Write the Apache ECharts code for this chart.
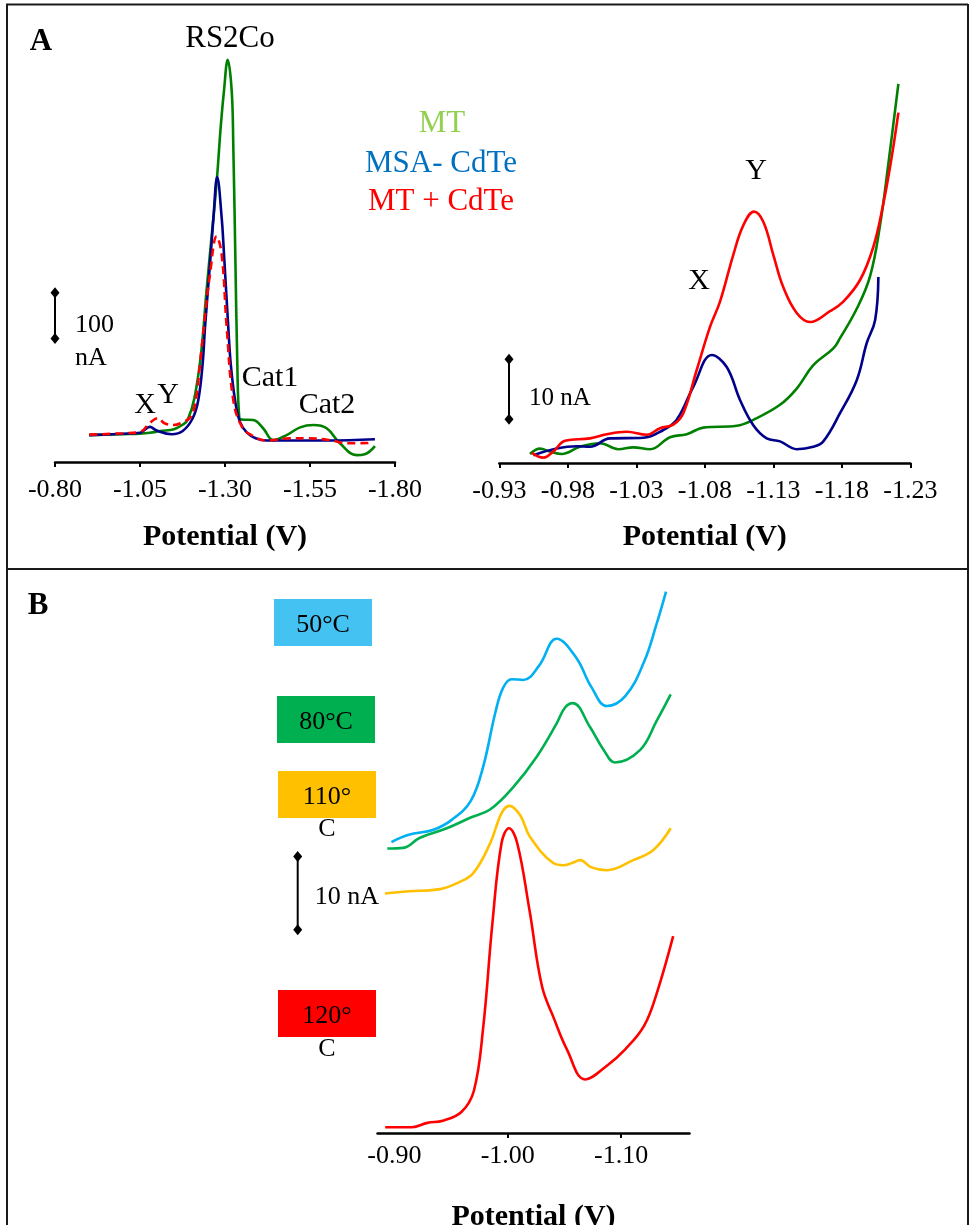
<!DOCTYPE html>
<html><head><meta charset="utf-8">
<script src="https://cdn.jsdelivr.net/npm/echarts@6/dist/echarts.min.js"></script>
<style>html,body{margin:0;padding:0;background:#fff}#c{width:971px;height:1225px}</style>
</head><body><div id="c"></div>
<script>
// ---------- tick labels ----------
const ticksALeft = [-0.80, -1.05, -1.30, -1.55, -1.80];
const ticksARight = [-0.93, -0.98, -1.03, -1.08, -1.13, -1.18, -1.23];
const ticksB = [-0.90, -1.00, -1.10];
const tickMarksB = [-1.00, -1.10];

// ---------- Panel A (left): potential (V), current (nA, offset) ----------
const aLeftMT = [[-0.901,59],[-1.000,61],[-1.050,62],[-1.079,64],[-1.110,68],[-1.150,72],[-1.178,83],[-1.190,92],[-1.210,140],[-1.230,240],[-1.245,370],[-1.260,490],[-1.2755,614],[-1.2873,734],[-1.297,814],[-1.3079,882],[-1.3197,814],[-1.3244,694],[-1.3303,455],[-1.3362,216],[-1.3421,96],[-1.350,93],[-1.383,92],[-1.412,74],[-1.442,48],[-1.481,59],[-1.521,76],[-1.560,81],[-1.599,74],[-1.638,41],[-1.687,15],[-1.711,17],[-1.741,35]];
const aLeftMSA = [[-0.901,59],[-1.000,62],[-1.050,64],[-1.079,77],[-1.099,69],[-1.143,61],[-1.1756,68],[-1.205,96],[-1.2215,136],[-1.2343,216],[-1.2412,295],[-1.258,455],[-1.266,535],[-1.277,625],[-1.2903,535],[-1.2971,455],[-1.3097,295],[-1.3168,216],[-1.3294,136],[-1.3441,88],[-1.3638,65],[-1.390,52],[-1.423,47],[-1.500,47],[-1.600,47],[-1.741,50]];
const aLeftMTCdTe = [[-0.901,60],[-1.000,63],[-1.050,66],[-1.079,86],[-1.103,96],[-1.122,85],[-1.148,81],[-1.178,88],[-1.200,100],[-1.215,140],[-1.2265,216],[-1.2412,320],[-1.255,407],[-1.2755,495],[-1.2903,455],[-1.305,296],[-1.3244,136],[-1.350,77],[-1.380,58],[-1.423,47],[-1.491,52],[-1.540,52],[-1.609,48],[-1.658,41],[-1.736,42]];
const aLeftScaleBar = [[-0.80,271],[-0.80,371]]; // 100 nA

// ---------- Panel A (right) ----------
const aRightMT = [[-0.9524,1.5],[-0.9597,2.4],[-0.9670,1.9],[-0.9756,1.5],[-0.9889,2.7],[-1.0035,3.3],[-1.0169,2.3],[-1.0278,2.6],[-1.0400,2.3],[-1.0546,4.3],[-1.0668,4.8],[-1.0789,5.9],[-1.1033,6.2],[-1.1154,7.2],[-1.1349,9.7],[-1.1471,12.4],[-1.1592,16.3],[-1.1738,19.1],[-1.1787,20.8],[-1.1909,25.7],[-1.2006,31.1],[-1.2079,39.6],[-1.2140,49.9],[-1.2213,63.2]];
const aRightMSA = [[-0.9548,1.3],[-0.9719,2.4],[-0.9865,2.8],[-0.9962,2.7],[-1.0108,4.1],[-1.0351,4.2],[-1.0497,5.5],[-1.0595,7.2],[-1.0716,12.7],[-1.0851,18.0],[-1.0960,16.0],[-1.1057,10.5],[-1.1154,6.3],[-1.1252,4.1],[-1.1349,3.6],[-1.1471,2.3],[-1.1592,2.7],[-1.1665,3.6],[-1.1787,8.3],[-1.1909,13.8],[-1.1982,20.0],[-1.2043,23.8],[-1.2067,31.0]];
const aRightMTCdTe = [[-0.9537,1.7],[-0.9621,0.9],[-0.9694,1.9],[-0.9780,3.7],[-0.9962,4.1],[-1.0084,4.8],[-1.0230,5.2],[-1.0376,4.7],[-1.0473,5.8],[-1.0570,6.4],[-1.0643,8.3],[-1.0741,15.5],[-1.0838,22.7],[-1.0911,26.9],[-1.1008,34.7],[-1.1081,39.6],[-1.1159,41.9],[-1.1227,40.2],[-1.1300,34.7],[-1.1373,29.3],[-1.1471,25.0],[-1.1568,23.5],[-1.1714,25.3],[-1.1811,26.9],[-1.1933,30.5],[-1.2030,36.0],[-1.2103,43.2],[-1.2165,51.1],[-1.2213,58.4]];
const aRightScaleBar = [[-0.9371,7.3],[-0.9371,17.3]]; // 10 nA

// ---------- Panel B ----------
const b50 = [[-0.8974,40.2],[-0.9126,41.2],[-0.9345,41.9],[-0.9509,43.3],[-0.9674,45.9],[-0.9783,50.6],[-0.9891,58.1],[-0.9959,61.5],[-1.0035,62.7],[-1.0138,62.6],[-1.0274,64.5],[-1.0432,68.3],[-1.0603,65.7],[-1.0739,61.6],[-1.0874,59.0],[-1.1039,60.4],[-1.1203,65.1],[-1.1313,70.3],[-1.1397,74.8]];
const b80 = [[-0.8938,39.3],[-0.9079,39.4],[-0.9226,40.8],[-0.9462,42.1],[-0.9674,43.6],[-0.9844,44.7],[-1.0049,47.8],[-1.0256,52.0],[-1.0432,56.6],[-1.0506,58.8],[-1.0574,59.4],[-1.0726,56.1],[-1.0848,52.9],[-1.0947,51.2],[-1.1167,52.9],[-1.1313,56.9],[-1.1438,60.6]];
const b110 = [[-0.8917,33.1],[-0.9126,33.4],[-0.9403,33.7],[-0.9564,34.6],[-0.9696,35.9],[-0.9844,40.0],[-0.9946,44.2],[-1.0014,45.2],[-1.0110,43.9],[-1.0197,40.9],[-1.0402,37.3],[-1.0491,37.0],[-1.0567,37.3],[-1.0638,37.7],[-1.0739,36.7],[-1.0874,36.3],[-1.1108,37.7],[-1.1285,39.1],[-1.1438,42.1]];
const b120 = [[-0.8919,0.8],[-0.9154,0.8],[-0.9291,1.4],[-0.9427,1.7],[-0.9591,2.9],[-0.9701,5.8],[-0.9783,14.5],[-0.9865,29.0],[-0.9946,40.1],[-1.0011,42.1],[-1.0083,40.1],[-1.0192,30.8],[-1.0302,20.3],[-1.0411,15.7],[-1.0521,11.6],[-1.0684,7.4],[-1.0875,9.3],[-1.1039,11.6],[-1.1203,14.8],[-1.1313,19.2],[-1.1460,27.2]];
const bScaleBar = [[0.5,28.1],[0.5,38.2]]; // 10 nA (drawn in its own small grid left of panel B)

const SERIF = 'Liberation Serif';

function xAxisCfg(gi, min, max, labels, ticks, nameGap, margin) {
  return {
    gridIndex: gi, type: 'value', min: min, max: max, inverse: true,
    axisLine: { show: true, onZero: false, lineStyle: { color: '#000', width: 2.5 } },
    axisTick: { show: true, customValues: ticks, length: 5, inside: false, lineStyle: { color: '#000', width: 2 } },
    axisLabel: { customValues: labels, formatter: v => Number(v).toFixed(2), fontFamily: SERIF, fontSize: 26, color: '#000', margin: margin },
    splitLine: { show: false },
    name: 'Potential (V)', nameLocation: 'middle', nameGap: nameGap,
    nameTextStyle: { fontFamily: SERIF, fontWeight: 'bold', fontSize: 30, color: '#000' }
  };
}
function yAxisCfg(gi, max) {
  return { gridIndex: gi, type: 'value', min: 0, max: max, show: false, splitLine: { show: false } };
}
function curve(name, data, gi, color, width, dashed) {
  return {
    name: name, type: 'line', xAxisIndex: gi, yAxisIndex: gi, data: data,
    showSymbol: false, smooth: 0.4, clip: false,
    lineStyle: { color: color, width: width, type: dashed ? [8, 5] : 'solid' },
    itemStyle: { color: color }, z: 3
  };
}
function bar(data, gi) {
  return {
    type: 'line', xAxisIndex: gi, yAxisIndex: gi, data: data, clip: false,
    symbol: 'diamond', symbolSize: [9, 11], showSymbol: true,
    lineStyle: { color: '#000', width: 2 }, itemStyle: { color: '#000' }, z: 4
  };
}
function txt(x, y, text, size, opts) {
  opts = opts || {};
  return {
    type: 'text', x: x, y: y, z: 10,
    style: {
      text: text, fontFamily: SERIF, fontSize: size, fontWeight: opts.bold ? 'bold' : 'normal',
      fill: opts.color || '#000', align: opts.align || 'center', verticalAlign: 'middle'
    }
  };
}
function box(x, y, w, h, color) {
  return { type: 'rect', shape: { x: x, y: y, width: w, height: h }, style: { fill: color }, z: 5 };
}
function ln(x1, y1, x2, y2) {
  return { type: 'line', shape: { x1: x1, y1: y1, x2: x2, y2: y2 }, style: { stroke: '#1a1a1a', lineWidth: 2 }, z: 1 };
}

const chart = echarts.init(document.getElementById('c'), null, { renderer: 'canvas' });
chart.setOption({
  backgroundColor: '#fff',
  animation: false,
  grid: [
    { left: 55, top: 6, width: 340, height: 456, containLabel: false, outerBoundsMode: 'none' },
    { left: 499.3, top: 13, width: 411, height: 450, containLabel: false, outerBoundsMode: 'none' },
    { left: 377.5, top: 554, width: 312, height: 579, containLabel: false, outerBoundsMode: 'none' },
    { left: 287.7, top: 554, width: 20, height: 579, containLabel: false, outerBoundsMode: 'none' }
  ],
  xAxis: [
    xAxisCfg(0, -1.80, -0.80, ticksALeft, ticksALeft, 60, 15),
    xAxisCfg(1, -1.23, -0.93, ticksARight, ticksARight, 59, 15),
    xAxisCfg(2, -1.1604, -0.8851, ticksB, tickMarksB, 69, 10),
    { gridIndex: 3, type: 'value', min: 0, max: 1, show: false }
  ],
  yAxis: [yAxisCfg(0, 1000), yAxisCfg(1, 75), yAxisCfg(2, 80), yAxisCfg(3, 80)],
  series: [
    curve('MT', aLeftMT, 0, '#008000', 2.6),
    curve('MSA- CdTe', aLeftMSA, 0, '#00008B', 2.6),
    curve('MT + CdTe', aLeftMTCdTe, 0, '#FF0000', 2.6, true),
    bar(aLeftScaleBar, 0),
    curve('MT', aRightMT, 1, '#008000', 2.6),
    curve('MSA- CdTe', aRightMSA, 1, '#00008B', 2.6),
    curve('MT + CdTe', aRightMTCdTe, 1, '#FF0000', 2.6),
    bar(aRightScaleBar, 1),
    curve('50°C', b50, 2, '#00B0F0', 2.6),
    curve('80°C', b80, 2, '#00B050', 2.6),
    curve('110°C', b110, 2, '#FFC000', 2.6),
    curve('120°C', b120, 2, '#FF0000', 2.6),
    bar(bScaleBar, 3)
  ],
  graphic: [
    ln(6, 4.5, 968, 4.5), ln(7, 4, 7, 1225), ln(968, 4, 968, 1225), ln(7, 569, 968, 569),
    txt(41, 42, 'A', 31, { bold: true }),
    txt(230, 39, 'RS2Co', 31),
    txt(442, 124, 'MT', 31, { color: '#92D050' }),
    txt(441, 164, 'MSA- CdTe', 31, { color: '#0070C0' }),
    txt(441, 202, 'MT + CdTe', 31, { color: '#FF0000' }),
    txt(75, 325, '100', 26, { align: 'left' }),
    txt(75, 358, 'nA', 26, { align: 'left' }),
    txt(145, 405, 'X', 30),
    txt(168, 395, 'Y', 30),
    txt(270, 378, 'Cat1', 30),
    txt(327, 405, 'Cat2', 30),
    txt(699, 281, 'X', 30),
    txt(756, 171, 'Y', 30),
    txt(529, 398, '10 nA', 25, { align: 'left' }),
    txt(38, 606, 'B', 31, { bold: true }),
    box(274, 599, 98, 47, '#44C2F2'), txt(323, 625, '50°C', 26),
    box(277, 696, 98, 47, '#00B050'), txt(326, 722, '80°C', 26),
    box(278, 771, 98, 47, '#FFC000'), txt(327, 797, '110°', 26), txt(327, 829, 'C', 26),
    box(278, 990, 98, 47, '#FF0000'), txt(327, 1016, '120°', 26), txt(327, 1049, 'C', 26),
    txt(347, 897, '10 nA', 26)
  ]
});
</script>
</body></html>
